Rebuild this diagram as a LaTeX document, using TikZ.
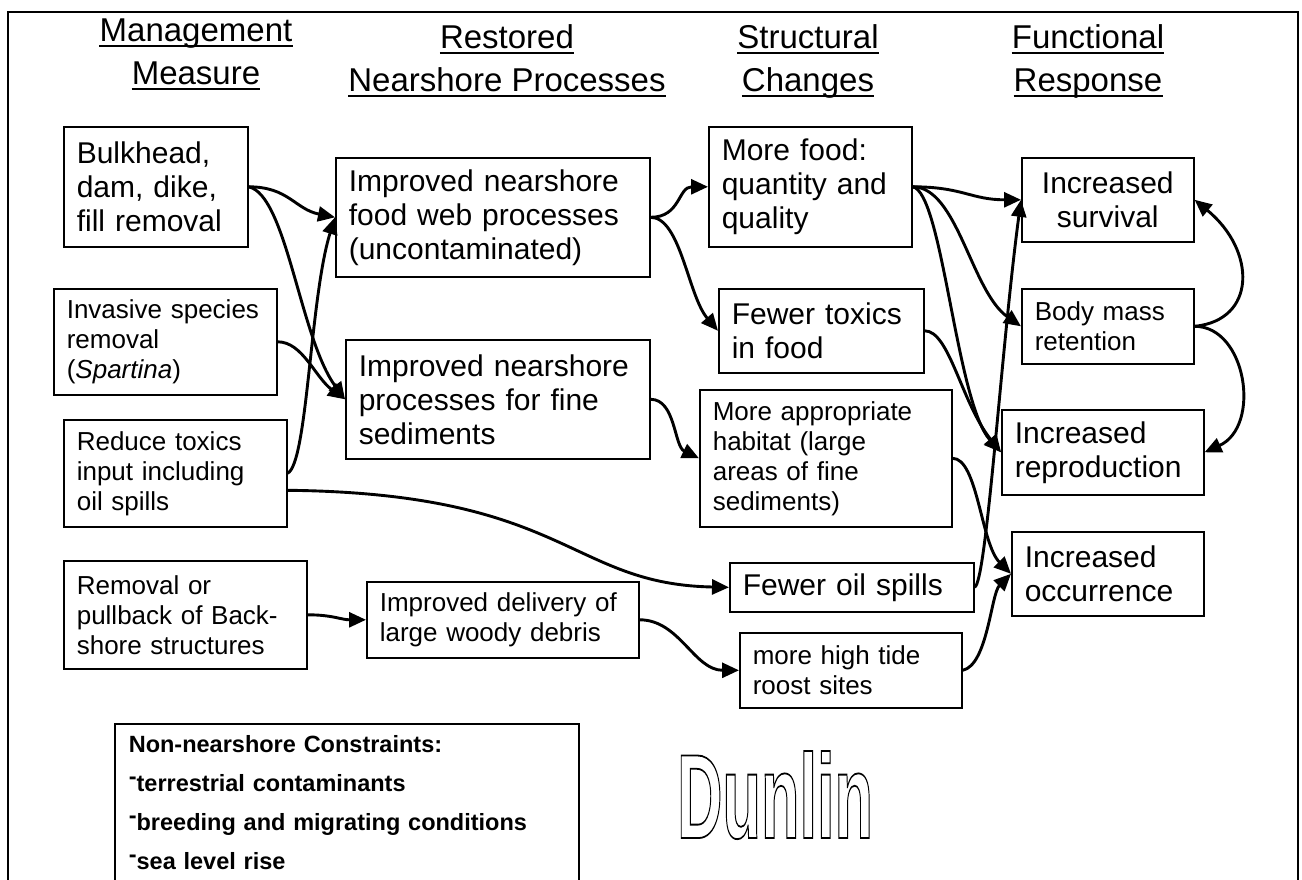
\documentclass[tikz,border=0pt]{standalone}
\usepackage{fontspec}
\setmainfont{Liberation Sans}
\usetikzlibrary{arrows.meta}
\begin{document}
\begin{tikzpicture}[x=1pt,y=-1pt,
  box/.style={draw, line width=1.6pt, anchor=north west, inner xsep=13pt, inner ysep=0pt, align=left},
  big/.style={font=\fontsize{30}{34}\selectfont},
  small/.style={font=\fontsize{26}{30}\selectfont},
  head/.style={font=\fontsize{33}{38}\selectfont, anchor=base, inner sep=0pt},
  link/.style={line width=2.9pt, -{Triangle[length=17pt,width=15pt]}},
  uline/.style={line width=2pt}]
\useasboundingbox (0,0) rectangle (1302,880);
\clip (0,0) rectangle (1302,880);
\draw[line width=2pt] (8,12) rectangle (1298,905);

% headings
\node[head] (h1a) at (196,42) {Management};
\node[head] (h1b) at (196,85) {Measure};
\node[head] (h2a) at (507,49) {Restored};
\node[head] (h2b) at (507,92) {Nearshore Processes};
\node[head] (h3a) at (808,49) {Structural};
\node[head] (h3b) at (808,92) {Changes};
\node[head] (h4a) at (1088,49) {Functional};
\node[head] (h4b) at (1088,92) {Response};
\foreach \h in {h1a,h1b,h2a,h2b,h3a,h3b,h4a,h4b}
  \draw[uline] ([yshift=-4pt]\h.base west) -- ([yshift=-4pt]\h.base east);

% boxes
\node[box,big,minimum width=184pt,minimum height=120pt,text width=158pt] (bulk) at (63,126) {Bulkhead,\\dam, dike,\\fill removal};
\node[box,small,minimum width=223pt,minimum height=106pt,text width=197pt] (inv) at (53,288) {Invasive species\\removal\\(\textit{Spartina})};
\node[box,small,minimum width=223pt,minimum height=107pt,text width=197pt] (red) at (63,419) {Reduce toxics\\input including\\oil spills};
\node[box,small,minimum width=243pt,minimum height=108pt,text width=217pt] (rem) at (63,560) {Removal or\\pullback of Back-\\shore structures};
\node[box,big,minimum width=314pt,minimum height=119pt,text width=288pt] (food) at (335,157) {Improved nearshore\\food web processes\\(uncontaminated)};
\node[box,big,minimum width=304pt,minimum height=119pt,text width=278pt] (sed) at (345,339) {Improved nearshore\\processes for fine\\sediments};
\node[box,small,minimum width=272pt,minimum height=76pt,text width=246pt] (del) at (366,581) {Improved delivery of\\large woody debris};
\node[box,big,minimum width=203pt,minimum height=120pt,text width=177pt] (more) at (708,126) {More food:\\quantity and\\quality};
\node[box,big,minimum width=205pt,minimum height=84pt,text width=179pt] (tox) at (718,288) {Fewer toxics\\in food};
\node[box,small,minimum width=252pt,minimum height=137pt,text width=226pt] (hab) at (699,389) {More appropriate\\habitat (large\\areas of fine\\sediments)};
\node[box,big,minimum width=244pt,minimum height=49pt,text width=218pt] (oil) at (729,562) {Fewer oil spills};
\node[box,small,minimum width=222pt,minimum height=75pt,text width=196pt] (tide) at (739,632) {more high tide\\roost sites};
\node[box,big,align=center,minimum width=172pt,minimum height=84pt,text width=146pt] (surv) at (1021,157) {Increased\\survival};
\node[box,small,minimum width=172pt,minimum height=75pt,text width=146pt] (body) at (1021,288) {Body mass\\retention};
\node[box,big,minimum width=202pt,minimum height=85pt,text width=176pt] (rep) at (1001,409) {Increased\\reproduction};
\node[box,big,minimum width=192pt,minimum height=84pt,text width=166pt] (occ) at (1011,531) {Increased\\occurrence};

\node[draw, line width=1.6pt, anchor=north west, inner xsep=14pt, inner ysep=12pt, align=left,
  font=\bfseries\fontsize{23.5}{39}\selectfont, text width=436pt] (cons) at (114,723)
  {Non-nearshore Constraints:\\
   \raisebox{.32em}{-}terrestrial contaminants\\
   \raisebox{.32em}{-}breeding and migrating conditions\\
   \raisebox{.32em}{-}sea level rise\strut};

\node[anchor=base, inner sep=0pt] (dun) at (775,838)
  {\fontsize{120}{120}\selectfont\bfseries\scalebox{0.525}[1]{\special{pdf:code 1 Tr 1.8 w}Dunlin\special{pdf:code 0 Tr}}};

% connectors
\draw[link] (bulk.east) .. controls +(40,0) and +(-40,-8) .. (food.west);
\draw[link] (bulk.east) .. controls +(38,8) and +(-45,-61) .. (sed.west);
\draw[link] (inv.east) .. controls +(25,0) and +(-30,-22) .. (sed.west);
\draw[link] (red.east) .. controls +(20,-10) and +(-25,80) .. (food.west);
\draw[link] ([yshift=-17pt]red.east) .. controls +(280,3) and +(-160,-3) .. (oil.west);
\draw[link] (food.east) .. controls +(30,0) and +(-30,0) .. (more.west);
\draw[link] (food.east) .. controls +(30,0) and +(-30,-35) .. (tox.west);
\draw[link] (sed.east) .. controls +(25,0) and +(-25,-12) .. (hab.west);
\draw[link] (more.east) .. controls +(50,0) and +(-50,0) .. (surv.west);
\draw[link] (more.east) .. controls +(45,0) and +(-50,-35) .. (body.west);
\draw[link] (more.east) .. controls +(30,5) and +(-45,-50) .. (rep.west);
\draw[link] (tox.east) .. controls +(25,0) and +(-40,-50) .. (rep.west);
\draw[link] (oil.east) .. controls +(12,-5) and +(-20,150) .. (surv.west);
\draw[link] (hab.east) .. controls +(25,0) and +(-30,-30) .. (occ.west);
\draw[link] (tide.east) .. controls +(25,-5) and +(-20,20) .. (occ.west);
\draw[link] (body.east) .. controls +(62,-6) and +(62,51) .. (surv.east);
\draw[link] (body.east) .. controls +(52,0) and +(57,-26) .. (rep.east);
\draw[link] (rem.east) .. controls +(25,0) and +(-25,0) .. (del.west);
\draw[link] (del.east) .. controls +(40,0) and +(-45,0) .. (tide.west);
\end{tikzpicture}
\end{document}
